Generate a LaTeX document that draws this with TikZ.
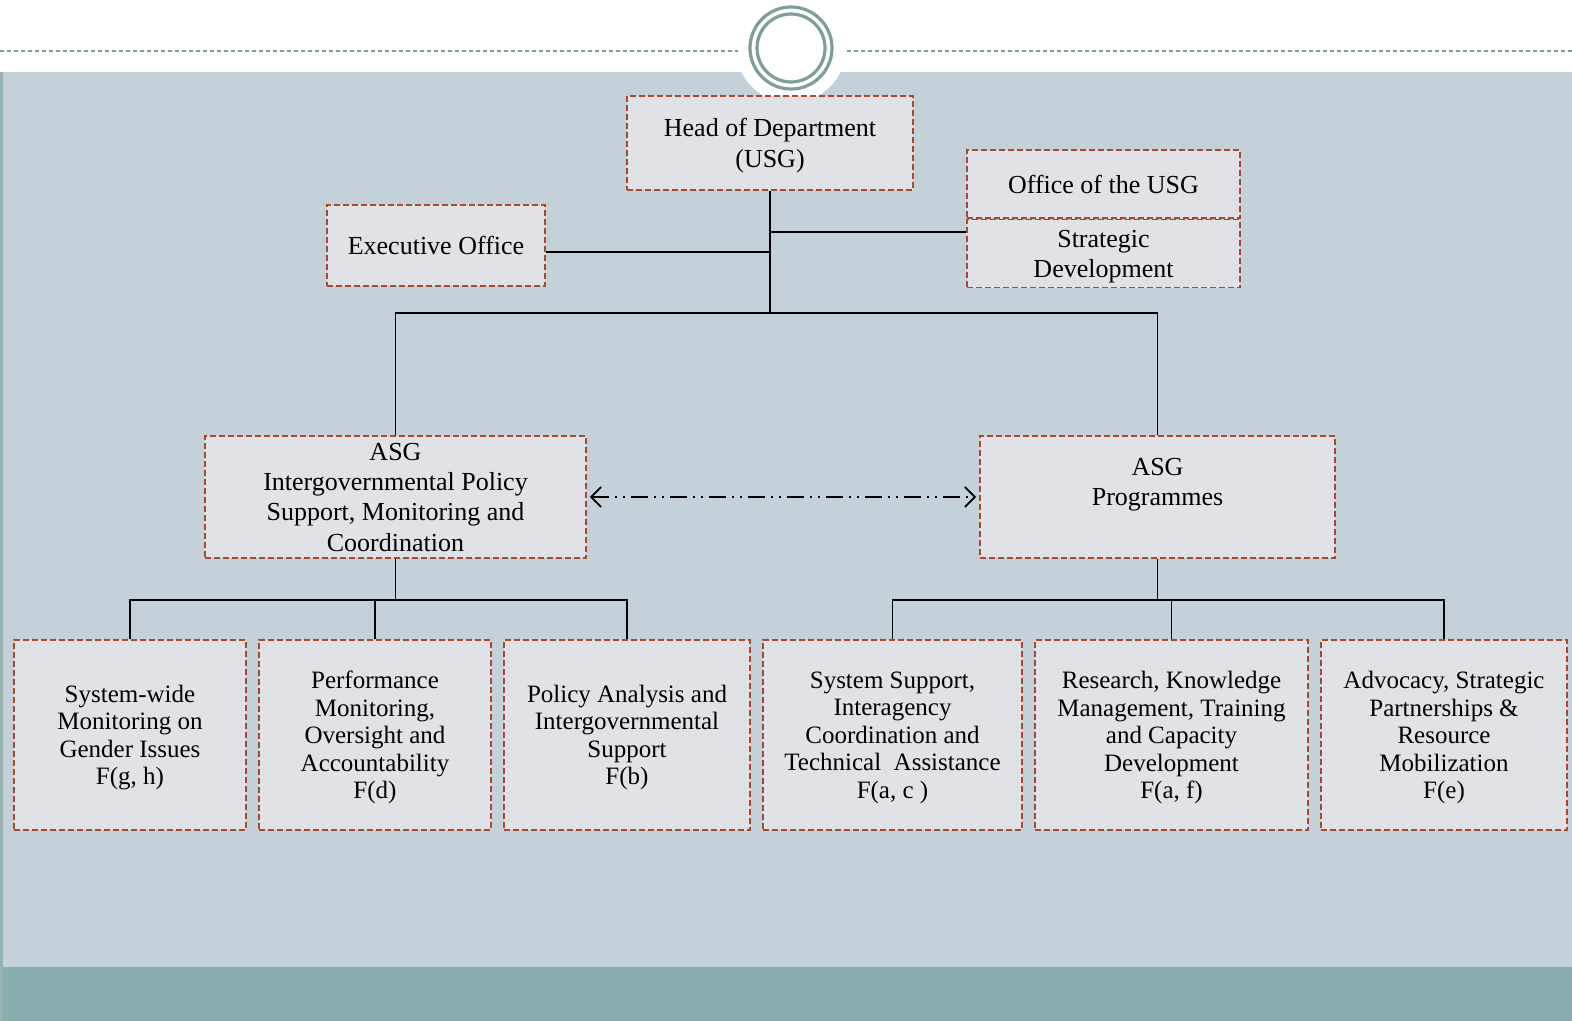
\documentclass[tikz,border=0pt]{standalone}
\usepackage{fontspec}
\setmainfont{Liberation Serif}
\usepackage{tikz}
\usetikzlibrary{arrows.meta,positioning}
\definecolor{pagebg}{HTML}{C5D1D8}
\definecolor{footbar}{HTML}{8AADAE}
\definecolor{ringcol}{HTML}{7C9F9C}
\definecolor{boxfill}{HTML}{E0E2E7}
\definecolor{boxline}{HTML}{A9492F}
\tikzstyle{unit} = [rectangle, draw=boxline, fill=boxfill, line width=0.8pt,
    dash pattern=on 3pt off 1.5pt, align=center, inner sep=2pt, text depth=0pt,
    font=\fontsize{13}{15.2}\selectfont]
\tikzstyle{leaf} = [unit, minimum height=95pt, font=\fontsize{12.5}{13.75}\selectfont]
\tikzstyle{line} = [draw, line width=0.9pt]
\tikzstyle{link} = [draw, line width=0.9pt, {Straight Barb[length=5pt,width=10pt]}-{Straight Barb[length=5pt,width=10pt]},
    dash pattern=on 8.5pt off 3pt on 1pt off 3pt on 1pt off 3pt, shorten <=1.5pt, shorten >=1.5pt]

\begin{document}
\begin{tikzpicture}[x=0.5pt,y=-0.5pt]
    % Background
    \useasboundingbox (0,0) rectangle (1572,1021);
    \fill[white] (0,0) rectangle (1572,1021);
    \fill[pagebg] (0,72) rectangle (1572,967);
    \fill[footbar] (0,967) rectangle (1572,1021);
    \fill[ringcol!80] (0,72) rectangle (3,1021);
    \fill[white] (791,48) circle (55);
    \draw[ringcol, line width=1pt, dash pattern=on 2pt off 1.5pt] (0,51) -- (738,51);
    \draw[ringcol, line width=1pt, dash pattern=on 2pt off 1.5pt] (847,51) -- (1572,51);
    \draw[ringcol, line width=1.6pt] (791,48) circle (41);
    \draw[ringcol, line width=1.6pt] (791,48) circle (34);

    % Place nodes
    \node [unit, minimum width=143pt, minimum height=47pt] (head) at (770,143) {Head of Department\\(USG)};
    \node [unit, minimum width=109pt, minimum height=40.5pt] (exec) at (436,245.5) {Executive Office};
    \node [unit, minimum width=136.5pt, minimum height=34pt] (office) at (1103.5,184) {Office of the USG};
    \node [unit, minimum width=136.5pt, minimum height=34pt, below=0pt of office] (strat) {Strategic\\Development};
    \node [unit, minimum width=190.5pt, minimum height=61pt] (asgL) at (395.5,497) {ASG\\Intergovernmental Policy\\Support, Monitoring and\\Coordination};
    \node [unit, minimum width=177.5pt, minimum height=61pt] (asgR) at (1157.5,497) {ASG\\Programmes\\\mbox{}};

    \node [leaf, minimum width=116pt] (gender) at (130,735) {System-wide\\Monitoring on\\Gender Issues\\F(g, h)};
    \node [leaf, minimum width=116pt] (perf) at (375,735) {Performance\\Monitoring,\\Oversight and\\Accountability\\F(d)};
    \node [leaf, minimum width=123pt] (policy) at (627,735) {Policy Analysis and\\Intergovernmental\\Support\\F(b)};
    \node [leaf, minimum width=129.5pt] (support) at (892.5,735) {System Support,\\Interagency\\Coordination and\\Technical\ \ Assistance\\F(a, c )};
    \node [leaf, minimum width=136.5pt] (research) at (1171.5,735) {Research, Knowledge\\Management, Training\\and Capacity\\Development\\F(a, f)};
    \node [leaf, minimum width=123pt] (advocacy) at (1444,735) {Advocacy, Strategic\\Partnerships \&\\Resource\\Mobilization\\F(e)};

    \coordinate (hub) at (770,313);
    \coordinate (execJ) at (770,252);
    \coordinate (officeJ) at (770,232);
    \coordinate (splitL) at (395.5,600);
    \coordinate (splitR) at (1157.5,600);

    % Draw edges
    \path [line] (head.south) -- (hub);
    \path [line] (execJ) -- (execJ -| exec.east);
    \path [line] (officeJ) -- (officeJ -| strat.west);
    \path [line] (asgL.north) |- (hub) -| (asgR.north);
    \path [line] (asgL.south) -- (splitL);
    \path [line] (gender.north) |- (splitL) -| (policy.north);
    \path [line] (perf.north) -- (perf.north |- splitL);
    \path [line] (asgR.south) -- (splitR);
    \path [line] (support.north) |- (splitR) -| (advocacy.north);
    \path [line] (research.north) -- (research.north |- splitR);
    \path [link] (asgL.east) -- (asgR.west);
\end{tikzpicture}
\end{document}
